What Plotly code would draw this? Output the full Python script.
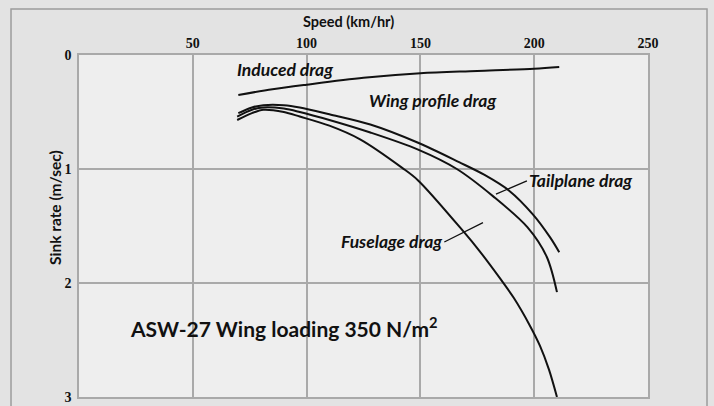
import plotly.graph_objects as go

# ---- data ----
induced_speed = [70, 85, 100, 125, 150, 175, 200, 211]
induced_sink = [0.35, 0.30, 0.26, 0.20, 0.16, 0.14, 0.12, 0.105]

wing_speed = [70, 76, 81, 90, 97, 110, 128, 149, 167, 178, 189, 199.5, 207, 211]
wing_sink = [0.51, 0.46, 0.44, 0.44, 0.46, 0.52, 0.61, 0.77, 0.94, 1.05, 1.19, 1.40, 1.60, 1.73]

tail_speed = [69.5, 76, 81, 90, 97, 110, 128, 149, 166, 182, 197, 205.5, 210]
tail_sink = [0.54, 0.48, 0.46, 0.47, 0.50, 0.57, 0.68, 0.83, 1.00, 1.24, 1.51, 1.77, 2.08]

fuse_speed = [69.5, 76, 81, 90, 97, 110, 123.5, 142, 149, 169, 176, 185, 191, 198, 202.5, 206.5, 210]
fuse_sink = [0.57, 0.51, 0.48, 0.50, 0.54, 0.62, 0.74, 0.99, 1.10, 1.55, 1.72, 1.96, 2.13, 2.37, 2.55, 2.76, 3.0]

x_ticks = [50, 100, 150, 200, 250]
x_ticklabels = ["50", "100", "150", "200", "250"]
y_ticks = [0, 1, 2, 3]
y_ticklabels = ["0", "1", "2", "3"]

fig = go.Figure()
line_style = dict(color="#111111", width=2, shape="spline", smoothing=0.9)
for sx, sy, name in [
    (induced_speed, induced_sink, "Induced drag"),
    (wing_speed, wing_sink, "Wing profile drag"),
    (tail_speed, tail_sink, "Tailplane drag"),
    (fuse_speed, fuse_sink, "Fuselage drag"),
]:
    fig.add_trace(go.Scatter(x=sx, y=sy, mode="lines", line=line_style, name=name,
                             showlegend=False, hoverinfo="skip"))

grid_col = "#a9a9a9"
tick_font = dict(family="Liberation Serif", size=14, color="#111111", weight="bold")

fig.update_xaxes(range=[0, 250], side="top", tickvals=x_ticks, ticktext=x_ticklabels,
                 showgrid=True, gridcolor=grid_col, gridwidth=1.5, automargin=False,
                 zeroline=False, showline=True, linecolor=grid_col, linewidth=1.5, mirror=True,
                 ticks="", tickfont=tick_font, ticklabelstandoff=0)
fig.update_yaxes(range=[3, 0], tickvals=y_ticks, ticktext=y_ticklabels,
                 showgrid=True, gridcolor=grid_col, gridwidth=1.5, automargin=False,
                 zeroline=False, showline=True, linecolor=grid_col, linewidth=1.5, mirror=True,
                 ticks="", tickfont=tick_font, ticklabelstandoff=3)

lab_font = dict(family="Lato", size=17.5, color="#111111", weight="bold", style="italic")

annotations = [
    dict(text="Speed (km/hr)", xref="paper", yref="paper", x=0.473, y=1.097,
         xanchor="center", yanchor="middle", showarrow=False,
         font=dict(family="Lato", size=14.5, color="#111111", weight="bold")),
    dict(text="Sink rate (m/sec)", xref="paper", yref="paper", x=-0.042, y=0.553,
         xanchor="center", yanchor="middle", textangle=-90, showarrow=False,
         font=dict(family="Lato", size=15.5, color="#111111", weight="bold")),
    dict(text="ASW-27 Wing loading 350 N/m<sup>2</sup>", x=21.5, y=2.39, xanchor="left",
         showarrow=False, font=dict(family="Lato", size=21, color="#111111", weight="bold")),
    dict(text="Induced drag", x=68.5, y=0.13, xanchor="left", showarrow=False, font=lab_font),
    dict(text="Wing profile drag", x=126.5, y=0.40, xanchor="left", showarrow=False, font=lab_font),
    dict(text="Tailplane drag", x=183.2, y=1.22, ax=196.8, ay=1.105, axref="x", ayref="y",
         xanchor="left", showarrow=True, arrowhead=0, arrowwidth=1.3, arrowcolor="#111111",
         font=lab_font),
    dict(text="Fuselage drag", x=177.5, y=1.47, ax=160.5, ay=1.64, axref="x", ayref="y",
         xanchor="right", showarrow=True, arrowhead=0, arrowwidth=1.3, arrowcolor="#111111",
         font=lab_font),
]

shapes = [
    dict(type="rect", xref="paper", yref="paper", x0=-0.1195, x1=1.1037, y0=-0.06, y1=1.1345,
         line=dict(color="#9c9c9c", width=1.5), fillcolor="rgba(0,0,0,0)", layer="below"),
]

fig.update_layout(
    width=714, height=406,
    margin=dict(l=79, r=66, t=55, b=9, autoexpand=False),
    paper_bgcolor="#e3e3e3", plot_bgcolor="#eeeeee",
    annotations=annotations, shapes=shapes, showlegend=False,
)

fig.write_html("out.html",
               config={"displayModeBar": False},
               post_script="document.body.style.margin='0';document.body.style.overflow='hidden';")
